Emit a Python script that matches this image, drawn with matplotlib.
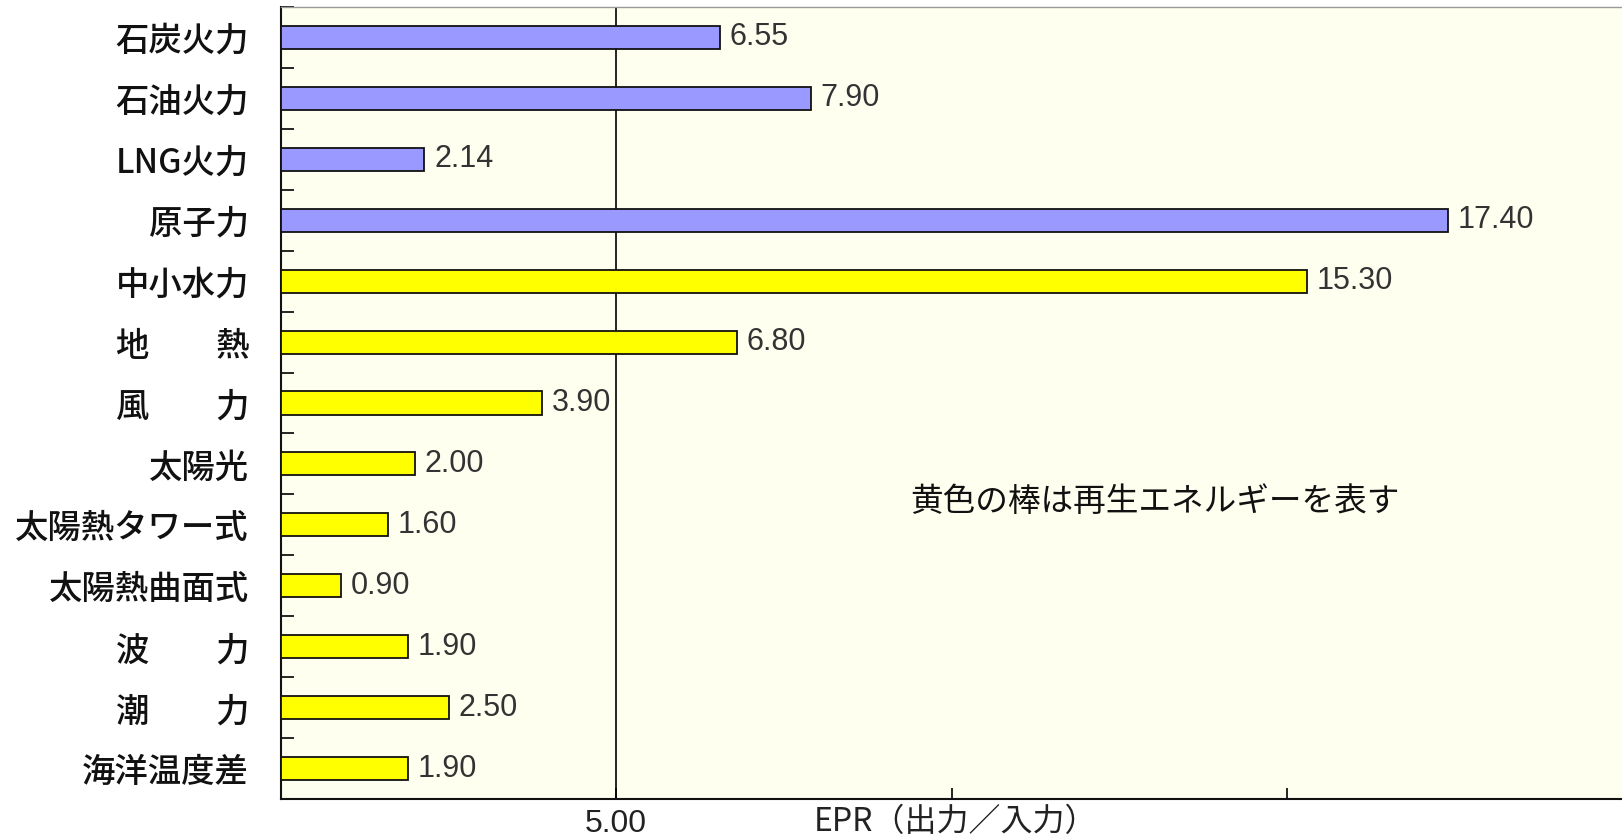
import matplotlib
matplotlib.use("Agg")
import matplotlib.pyplot as plt

# EPR (energy payback ratio) by generation method
categories = ['石炭火力', '石油火力', 'LNG火力', '原子力', '中小水力', '地　　熱', '風　　力',
              '太陽光', '太陽熱タワー式', '太陽熱曲面式', '波　　力', '潮　　力', '海洋温度差']
values = [6.55, 7.90, 2.14, 17.40, 15.30, 6.80, 3.90, 2.00, 1.60, 0.90, 1.90, 2.50, 1.90]
renewable = [False, False, False, False, True, True, True, True, True, True, True, True, True]
x_ticks = [5, 10, 15]
x_tick_labels = ['5.00', '', '']
note = '黄色の棒は再生エネルギーを表す'
x_title = 'EPR（出力／入力）'

CJK = ['Noto Sans CJK JP', 'DejaVu Sans']
NUM = ['Liberation Sans', 'DejaVu Sans']

W, H = 1622, 836
fig = plt.figure(figsize=(W / 100, H / 100), dpi=100)
left, top, bottom = 281, 7, 799
ax = fig.add_axes([left / W, 1 - bottom / H, 1 - left / W, (bottom - top) / H])
ax.set_facecolor('#FFFFF0')

colors = ['#FFFF00' if r else '#9999FF' for r in renewable]
ypos = list(range(len(categories)))
ax.barh(ypos, values, height=0.38, color=colors, edgecolor='#111111', linewidth=1.3, zorder=3)

for y, v in zip(ypos, values):
    ax.annotate(f'{v:.2f}', xy=(v, y), xytext=(7, 0), textcoords='offset points',
                ha='left', va='center', fontsize=22, family=NUM, color='#333333', zorder=4)

ax.set_xlim(0, 20)
ax.set_ylim(len(categories) - 0.5, -0.5)

# reference line at 5.00
ax.axvline(5, color='black', linewidth=1.2, zorder=2)

ax.set_xticks(x_ticks)
ax.set_xticklabels(x_tick_labels, fontsize=23, family=NUM, color='#222222')
ax.tick_params(axis='x', direction='in', length=8, width=1.2, pad=7)

ax.set_yticks(ypos)
ax.set_yticklabels(categories, fontsize=24, family=CJK, fontweight='medium', color='#111111')
ax.set_yticks([i - 0.5 for i in range(len(categories) + 1)], minor=True)
ax.tick_params(axis='y', which='major', length=0, pad=23)
ax.tick_params(axis='y', which='minor', direction='in', length=9, width=1.2)

ax.spines['right'].set_visible(False)
ax.spines['top'].set_color('#999999')
ax.spines['top'].set_linewidth(1.0)
for s in ('left', 'bottom'):
    ax.spines[s].set_color('#111111')
    ax.spines[s].set_linewidth(1.5)

ax.text(9.38, 7.62, note, ha='left', va='center', fontsize=23.5, family=CJK, color='#111111')
fig.text(814 / W, 1 - 822 / H, x_title, ha='left', va='center', fontsize=23, family=CJK, color='#222222')

fig.savefig('out.png', dpi=100, facecolor='white')
